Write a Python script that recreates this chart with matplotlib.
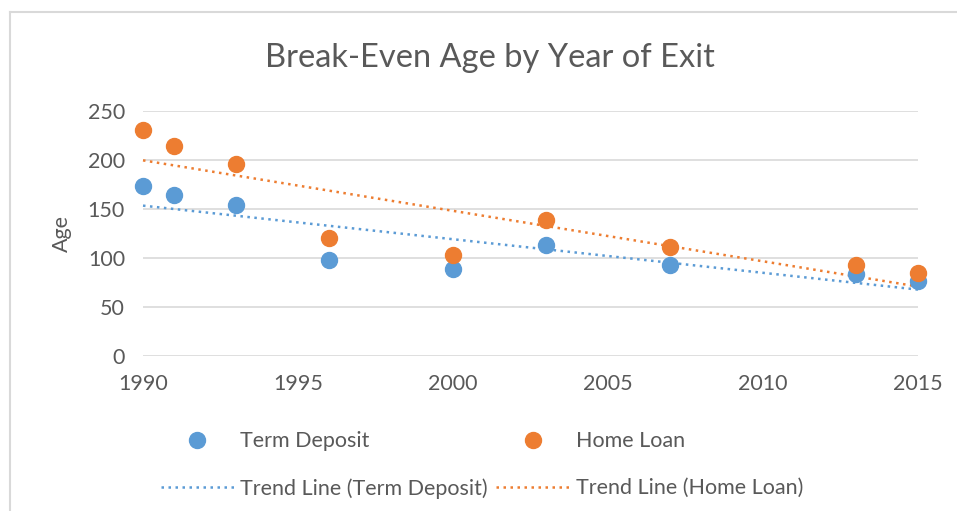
import numpy as np
import matplotlib.pyplot as plt
from matplotlib.lines import Line2D

# Datos
years = [1990, 1991, 1993, 1996, 2000, 2003, 2007, 2013, 2015]
term_deposit = [173, 164, 154, 98, 89, 113, 93, 84, 77]
home_loan = [231, 214, 196, 120, 103, 139, 111, 93, 85]

blue = '#5b9bd5'
orange = '#ed7d31'
grey_txt = '#595959'

plt.rcParams['font.family'] = ['Lato', 'DejaVu Sans']

fig = plt.figure(figsize=(9.57, 5.11), dpi=100)
ax = fig.add_axes([143 / 957, 1 - 356 / 511, (918 - 143) / 957, (356 - 111) / 511])

# Borde del gráfico (solo izquierda y arriba visibles)
fig.add_artist(Line2D([10 / 957, 10 / 957], [0, 1 - 12 / 511], transform=fig.transFigure,
                      color='#d9d9d9', lw=1.5))
fig.add_artist(Line2D([10 / 957, 1], [1 - 12 / 511, 1 - 12 / 511], transform=fig.transFigure,
                      color='#d9d9d9', lw=1.5))

# Líneas de tendencia (regresión lineal, como Excel)
x_fit = np.array([years[0], years[-1]])
for vals, col in [(term_deposit, blue), (home_loan, orange)]:
    k, b = np.polyfit(years, vals, 1)
    ax.plot(x_fit, k * x_fit + b, color=col, lw=1.8, linestyle=(0, (1, 1.8)), zorder=2,
            clip_on=False)

ax.plot(years, term_deposit, 'o', color=blue, markersize=11.5, zorder=3, clip_on=False)
ax.plot(years, home_loan, 'o', color=orange, markersize=11.5, zorder=3, clip_on=False)

ax.set_xlim(1990, 2015)
ax.set_ylim(0, 250)
ax.set_xticks(range(1990, 2016, 5))
ax.set_yticks(range(0, 251, 50))
ax.grid(axis='y', color='#d9d9d9', lw=1.2)
ax.set_axisbelow(True)
for s in ax.spines.values():
    s.set_visible(False)
ax.tick_params(length=0, labelsize=15.5, labelcolor=grey_txt)
ax.tick_params(axis='x', pad=13)
ax.tick_params(axis='y', pad=13)
ax.set_ylabel('Age', fontsize=15.5, color=grey_txt, labelpad=11)

fig.text(490 / 957, 1 - 58 / 511, 'Break-Even Age by Year of Exit', ha='center', va='center',
         fontsize=23.5, color=grey_txt)

handles = [
    Line2D([], [], marker='o', color=blue, ls='none', markersize=11.5),
    Line2D([], [], color=blue, lw=1.8, linestyle=(0, (1, 1.8))),
    Line2D([], [], marker='o', color=orange, ls='none', markersize=11.5),
    Line2D([], [], color=orange, lw=1.8, linestyle=(0, (1, 1.8))),
]
labels = ['Term Deposit', 'Trend Line (Term Deposit)', 'Home Loan', 'Trend Line (Home Loan)']
fig.legend(handles, labels, ncol=2, loc='center', bbox_to_anchor=(482 / 957, 1 - 465 / 511),
           frameon=False, fontsize=15.5, labelcolor=grey_txt, handlelength=3.4,
           handletextpad=0.3, columnspacing=0.4, labelspacing=1.25)

fig.savefig('out.png', dpi=100)
